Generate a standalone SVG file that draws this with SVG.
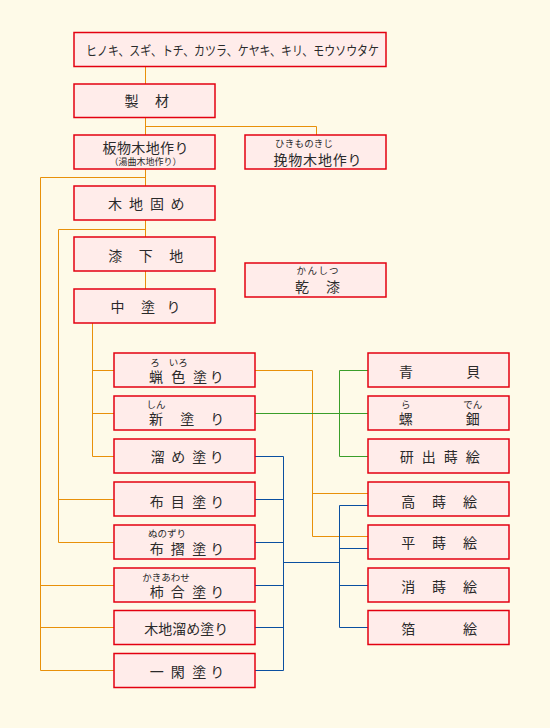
<svg xmlns="http://www.w3.org/2000/svg" width="550" height="728" viewBox="0 0 550 728">
<style>
.bg{fill:#FEFAE8}
.box{fill:#FFECEA;stroke:#E30010;stroke-width:1.5}
text{font-family:"Noto Sans CJK JP","Noto Sans",sans-serif;fill:#2a2a2a;text-anchor:middle}
.t{font-size:14px}
.r{font-size:9.5px}
.s{font-size:9px}
.o{stroke:#E8900A;fill:none;stroke-width:1}
.g{stroke:#3A9E2A;fill:none;stroke-width:1}
.b{stroke:#0A4FA0;fill:none;stroke-width:1}
</style>
<rect class="bg" x="0" y="0" width="550" height="728"/>
<g id="connectors">
  <path class="o" d="M145.5 66V84M145.5 117V135M145.5 126.5H316.5V135M145.5 169V186M40.5 177.5H145.5M40.5 177.5V670.5M40.5 585.5H114M40.5 627.5H114M40.5 670.5H114M145.5 220V237M58.5 229.5H145.5M58.5 229.5V542.5M58.5 499.5H114M58.5 542.5H114M145.5 271V289M92.5 323V456.5M92.5 370.5H114M92.5 413.5H114M92.5 456.5H114M255 370.5H312.5V536.5M312.5 493.5H368M312.5 536.5H368"/>
  <path class="g" d="M255 413.5H368M339.5 370.5V456.5M339.5 370.5H368M339.5 456.5H368"/>
  <path class="b" d="M255 456.5H283.5V670.5M255 499.5H283.5M255 542.5H283.5M255 585.5H283.5M255 627.5H283.5M255 670.5H283.5M283.5 562.5H339.5M339.5 505.5V627.5M339.5 505.5H368M339.5 548.5H368M339.5 585.5H368M339.5 627.5H368"/>
</g>
<g id="n-materials"><rect class="box" x="74" y="32.5" width="312" height="34"/><text x="232.5" y="54.5" font-size="13" textLength="293" lengthAdjust="spacingAndGlyphs">ヒノキ、スギ、トチ、カツラ、ケヤキ、キリ、モウソウタケ</text></g>
<g id="n-seizai"><rect class="box" x="74" y="84" width="141" height="33.5"/><text class="t" x="131.5 162" y="105.5">製材</text></g>
<g id="n-itamono"><rect class="box" x="74" y="135" width="141" height="34"/><text class="t" x="145.5" y="153" textLength="86">板物木地作り</text><text class="s" x="145.5" y="164.5" textLength="72">（湯曲木地作り）</text></g>
<g id="n-hikimono"><rect class="box" x="245" y="135" width="141" height="34"/><text class="r" x="304" y="146.5" textLength="58">ひきものきじ</text><text class="t" x="317.5" y="165" textLength="88">挽物木地作り</text></g>
<g id="n-kijigatame"><rect class="box" x="74" y="186" width="141" height="34"/><text class="t" x="115 136 157 177.5" y="209.3">木地固め</text></g>
<g id="n-urushishitaji"><rect class="box" x="74" y="237" width="141" height="34"/><text class="t" x="115.3 145.8 176.3" y="261">漆下地</text></g>
<g id="n-nakanuri"><rect class="box" x="74" y="289" width="141" height="34"/><text class="t" x="117.5 148 173.5" y="311.7">中塗り</text></g>
<g id="n-kanshitsu"><rect class="box" x="245" y="263" width="141" height="34"/><text class="r" x="317.5" y="274" textLength="42">かんしつ</text><text class="t" x="302 333" y="292.3">乾漆</text></g>
<g id="n-roiro"><rect class="box" x="114" y="353" width="141" height="34"/><text class="r" x="155" y="365.5">ろ</text><text class="r" x="178.3" y="365.5">いろ</text><text class="t" x="156 178.3 200 216.7" y="381.5">蝋色塗り</text></g>
<g id="n-shinnuri"><rect class="box" x="114" y="396" width="141" height="34"/><text class="r" x="156" y="407.5">しん</text><text class="t" x="156 187.3 217.3" y="424.3">新塗り</text></g>
<g id="n-tamenuri"><rect class="box" x="114" y="439" width="141" height="34"/><text class="t" x="157.7 178.3 199.3 216.7" y="462.3">溜め塗り</text></g>
<g id="n-nunomenuri"><rect class="box" x="114" y="482" width="141" height="34"/><text class="t" x="156.7 177.7 199.3 217.3" y="506.7">布目塗り</text></g>
<g id="n-nunozuri"><rect class="box" x="114" y="525" width="141" height="34"/><text class="r" x="167" y="536.5">ぬのずり</text><text class="t" x="156.7 177.7 199.3 217.3" y="554">布摺塗り</text></g>
<g id="n-kakiawase"><rect class="box" x="114" y="568" width="141" height="34"/><text class="r" x="166" y="580.5">かきあわせ</text><text class="t" x="156.7 177.7 199.3 217.3" y="597.3">柿合塗り</text></g>
<g id="n-kijitame"><rect class="box" x="114" y="610.5" width="141" height="34"/><text class="t" x="186.3" y="634" textLength="84">木地溜め塗り</text></g>
<g id="n-ikkan"><rect class="box" x="114" y="653.5" width="141" height="34"/><text class="t" x="156.7 177.7 199.3 217.3" y="676.7">一閑塗り</text></g>
<g id="n-aogai"><rect class="box" x="368" y="353" width="141" height="34"/><text class="t" x="406 473.3" y="377.3">青貝</text></g>
<g id="n-raden"><rect class="box" x="368" y="396" width="141" height="34"/><text class="r" x="405.7" y="407.5">ら</text><text class="r" x="472.7" y="407.5">でん</text><text class="t" x="405.7 472.7" y="424.3">螺鈿</text></g>
<g id="n-togidashi"><rect class="box" x="368" y="439" width="141" height="34"/><text class="t" x="406.7 428.7 450.7 472.7" y="462.3">研出蒔絵</text></g>
<g id="n-takamaki"><rect class="box" x="368" y="482" width="141" height="34"/><text class="t" x="408.3 439 470" y="506.7">高蒔絵</text></g>
<g id="n-hiramaki"><rect class="box" x="368" y="525" width="141" height="34"/><text class="t" x="408.3 439 470" y="548.3">平蒔絵</text></g>
<g id="n-keshimaki"><rect class="box" x="368" y="568" width="141" height="34"/><text class="t" x="408.3 439 470" y="591.7">消蒔絵</text></g>
<g id="n-hakue"><rect class="box" x="368" y="610.5" width="141" height="34"/><text class="t" x="408.3 470" y="634.3">箔絵</text></g>
</svg>
